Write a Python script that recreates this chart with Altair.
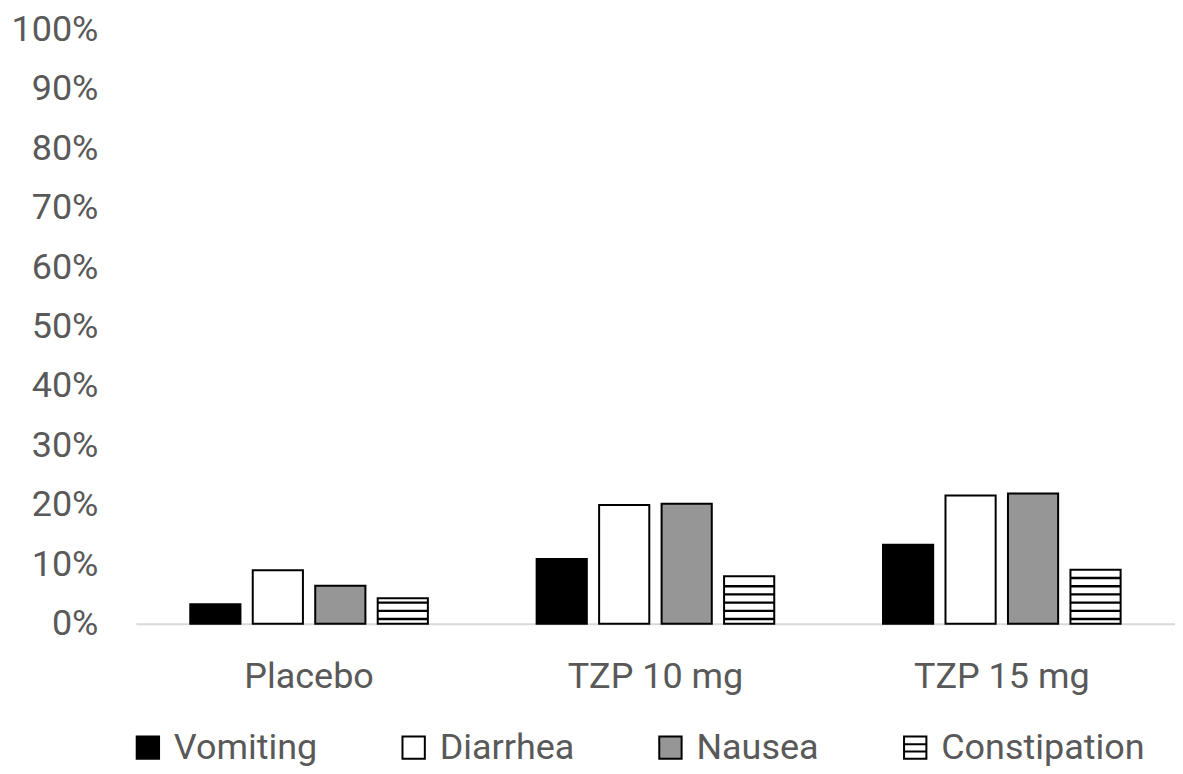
import altair as alt
import pandas as pd

groups = ["Placebo", "TZP 10 mg", "TZP 15 mg"]
series = ["Vomiting", "Diarrhea", "Nausea", "Constipation"]
vomiting = [0.033, 0.109, 0.133]
diarrhea = [0.090, 0.200, 0.216]
nausea = [0.064, 0.202, 0.219]
constipation = [0.043, 0.080, 0.091]

# stripe pattern of the Constipation bars (style of the hatch, not data)
stripe_start = 0.008
stripe_step = 0.0138
stripe_half = 0.002

rows = []
for name, vals in zip(series, [vomiting, diarrhea, nausea, constipation]):
    for g, v in zip(groups, vals):
        rows.append({"group": g, "series": name, "value": v})
df = pd.DataFrame(rows)

stripes = []
for g, v in zip(groups, constipation):
    lvl = stripe_start
    while lvl < v - 0.006:
        stripes.append({"group": g, "series": "Constipation",
                        "lo": lvl - stripe_half, "hi": lvl + stripe_half})
        lvl += stripe_step
sdf = pd.DataFrame(stripes)

FONT = "Roboto"
GREY = "#595959"

x_enc = alt.X(
    "group:N", sort=groups, title=None,
    scale=alt.Scale(domain=groups, paddingInner=0.314, paddingOuter=0.157),
    axis=alt.Axis(labelAngle=0, ticks=False, tickSize=0, domain=True,
                  domainColor="#d9d9d9", domainWidth=2,
                  labelFontSize=36, labelColor=GREY, labelFont=FONT,
                  labelPadding=36),
)
xo_enc = alt.XOffset("series:N", sort=series,
                     scale=alt.Scale(domain=series, paddingInner=0.197, paddingOuter=0))
y_scale = alt.Scale(domain=[0, 1], nice=False)
y_axis = alt.Axis(format=".0%", values=[i / 10 for i in range(11)], grid=False,
                  domain=False, ticks=False, tickSize=0, labelFontSize=36,
                  labelColor=GREY, labelFont=FONT, labelPadding=38)

fill_scale = alt.Scale(domain=series, range=["#000000", "#ffffff", "#969696", "#ffffff"])
stroke_scale = alt.Scale(domain=series, range=["#000000", "#000000", "#000000", "#000000"])
legend = alt.Legend(title=None, orient="none", legendX=-6, legendY=701,
                    direction="horizontal", symbolSize=500,
                    symbolStrokeWidth=2, labelFontSize=36, labelFont=FONT,
                    labelColor=GREY, labelOffset=8, columnPadding=78, padding=0,
                    labelLimit=400, symbolOpacity=1)

bars = alt.Chart(df).mark_bar(stroke="black", strokeWidth=2).encode(
    x=x_enc, xOffset=xo_enc,
    y=alt.Y("value:Q", scale=y_scale, axis=y_axis, title=None),
    fill=alt.Fill("series:N", scale=fill_scale, legend=legend, sort=series),
)

stripe_layer = alt.Chart(sdf).mark_bar(fill="black", strokeWidth=0).encode(
    x=x_enc, xOffset=xo_enc,
    y=alt.Y("lo:Q", scale=y_scale),
    y2="hi:Q",
)

shape_path = "M-1,-1H1V1H-1Z M-1,-0.3H1 M-1,0.35H1"
leg_layer = alt.Chart(df).transform_filter("datum.value < 0").mark_point(
    filled=True, strokeWidth=2, size=500
).encode(
    x=x_enc, xOffset=xo_enc,
    y=alt.Y("value:Q", scale=y_scale),
    fill=alt.Fill("series:N", scale=fill_scale, legend=legend, sort=series),
    stroke=alt.Stroke("series:N", scale=stroke_scale, legend=legend, sort=series),
    shape=alt.Shape("series:N", sort=series,
                    scale=alt.Scale(domain=series,
                                    range=["square", "square", "square", shape_path]),
                    legend=legend),
)

chart = alt.layer(bars, stripe_layer, leg_layer).properties(
    width=1040, height=595, background="white",
    padding={"left": 2, "top": 3, "right": 0, "bottom": 2},
).configure_view(strokeWidth=0, stroke="transparent")

chart.save("out.html", embed_options={"renderer": "svg", "actions": False})
